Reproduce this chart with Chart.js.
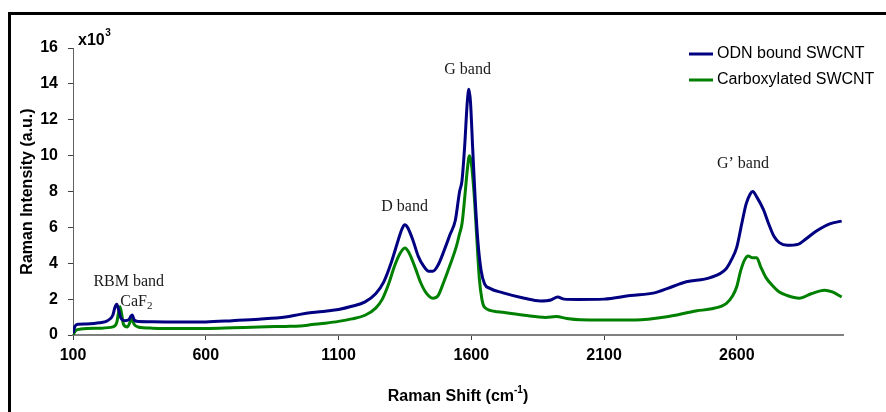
<!DOCTYPE html>
<html>
<head>
<meta charset="utf-8">
<title>Raman spectra</title>
<script src="https://cdn.jsdelivr.net/npm/chart.js@4.4.1/dist/chart.umd.min.js"></script>
<style>
  html, body { margin: 0; padding: 0; background: #fff; }
  #wrap { width: 886px; height: 412px; }
</style>
</head>
<body>
<div id="wrap"><canvas id="raman" width="886" height="412"></canvas></div>
<script>
(function () {
  "use strict";

  // Raman shift (cm^-1) and intensity (x10^3 a.u.)
  var odnShift = [100, 108, 120, 150, 200, 230, 250, 258, 265, 272, 280, 295, 310, 318, 323, 330, 345,
    400, 500, 600, 700, 800, 900, 955, 1000, 1050, 1100, 1150, 1200, 1240, 1270, 1300, 1325, 1340,
    1350, 1360, 1380, 1400, 1420, 1440, 1455, 1475, 1500, 1520, 1540, 1556, 1565, 1575, 1585, 1591,
    1597, 1605, 1615, 1625, 1637, 1650, 1670, 1720, 1800, 1860, 1900, 1925, 1950, 2000, 2100, 2200,
    2290, 2340, 2385, 2410, 2500, 2560, 2580, 2600, 2620, 2635, 2650, 2660, 2675, 2700, 2720, 2740,
    2760, 2790, 2830, 2860, 2900, 2950, 2995];
  var odnIntensity = [0.1, 0.5, 0.6, 0.62, 0.68, 0.8, 1.1, 1.55, 1.72, 1.4, 0.95, 0.8, 0.85, 1.05, 1.12, 0.85, 0.75,
    0.74, 0.72, 0.73, 0.8, 0.88, 1.0, 1.15, 1.25, 1.33, 1.42, 1.6, 1.85, 2.3, 2.95, 4.1, 5.3, 5.95,
    6.15, 6.0, 5.3, 4.4, 3.85, 3.55, 3.55, 3.9, 4.8, 5.6, 6.4, 8.0, 8.6, 10.5, 13.0, 13.7,
    13.0, 10.5, 7.5, 5.2, 3.6, 2.85, 2.6, 2.35, 2.05, 1.9, 1.95, 2.12, 2.0, 1.98, 2.0, 2.2,
    2.35, 2.6, 2.85, 2.97, 3.2, 3.7, 4.2, 4.9, 6.3, 7.3, 7.85, 8.0, 7.7, 7.0, 6.2, 5.5,
    5.15, 5.0, 5.05, 5.35, 5.8, 6.2, 6.35];

  var carbShift = [100, 110, 130, 200, 250, 265, 272, 277, 283, 290, 305, 316, 322, 330, 345,
    400, 500, 600, 700, 800, 900, 955, 1000, 1050, 1100, 1150, 1200, 1240, 1265, 1290, 1310, 1330,
    1350, 1365, 1390, 1410, 1430, 1455, 1475, 1495, 1520, 1545, 1555, 1565, 1575, 1585, 1593,
    1600, 1610, 1620, 1630, 1640, 1650, 1700, 1800, 1880, 1920, 1960, 2010, 2100, 2220, 2330,
    2450, 2500, 2560, 2585, 2600, 2615, 2630, 2643, 2660, 2675, 2690, 2710, 2735, 2760, 2790,
    2835, 2880, 2930, 2960, 2995];
  var carbIntensity = [0.0, 0.25, 0.33, 0.38, 0.45, 0.7, 1.3, 1.58, 1.2, 0.6, 0.45, 0.75, 0.9, 0.6, 0.45,
    0.38, 0.36, 0.36, 0.4, 0.45, 0.48, 0.5, 0.58, 0.66, 0.76, 0.9, 1.1, 1.5, 2.0, 2.9, 3.8, 4.5,
    4.85, 4.6, 3.7, 2.9, 2.35, 2.05, 2.2, 2.9, 3.9, 5.0, 5.6, 6.2, 7.6, 9.2, 10.0,
    9.6, 8.0, 5.6, 3.2, 2.0, 1.55, 1.3, 1.1, 0.98, 1.03, 0.92, 0.85, 0.84, 0.84, 1.0,
    1.35, 1.45, 1.75, 2.2, 2.7, 3.6, 4.2, 4.4, 4.3, 4.3, 3.8, 3.2, 2.75, 2.4, 2.2,
    2.05, 2.3, 2.5, 2.4, 2.12];

  var seriesNames = ["ODN bound SWCNT", "Carboxylated SWCNT"];
  var seriesColors = ["#000080", "#008000"];
  var shiftTicks = [100, 600, 1100, 1600, 2100, 2600];

  // band labels: [text, shift, intensity]
  var bandLabels = [
    ["G band", 1586, 14.77],
    ["D band", 1349, 7.13],
    ["G\u2019 band", 2623, 9.53],
    ["RBM band", 310, 2.95]
  ];

  var sans = "Arial, 'Liberation Sans', sans-serif";
  var serif = "'Times New Roman', 'Liberation Serif', serif";

  function pairs(xs, ys) {
    return xs.map(function (x, i) { return { x: x, y: ys[i] }; });
  }

  var decorations = {
    id: "decorations",
    afterDraw: function (chart) {
      var ctx = chart.ctx;
      var area = chart.chartArea;
      var xs = chart.scales.x;
      var ys = chart.scales.y;
      ctx.save();

      // outer frame
      ctx.strokeStyle = "#000";
      ctx.lineWidth = 3;
      ctx.strokeRect(9.5, 13.5, 900, 430);

      // y multiplier
      ctx.fillStyle = "#000";
      ctx.textBaseline = "alphabetic";
      ctx.textAlign = "left";
      ctx.font = "bold 16px " + sans;
      ctx.fillText("x10", 78, 45);
      var w10 = ctx.measureText("x10").width;
      ctx.font = "bold 10px " + sans;
      ctx.fillText("3", 78 + w10 + 0.5, 36);

      // y title
      ctx.save();
      ctx.translate(28, (area.top + area.bottom) / 2);
      ctx.rotate(-Math.PI / 2);
      ctx.font = "bold 16px " + sans;
      ctx.textAlign = "center";
      ctx.textBaseline = "middle";
      ctx.fillText("Raman Intensity (a.u.)", 0, 0);
      ctx.restore();

      // x title with superscript
      var main = "Raman Shift (cm";
      ctx.font = "bold 16px " + sans;
      var wMain = ctx.measureText(main).width;
      var wClose = ctx.measureText(")").width;
      ctx.font = "bold 10px " + sans;
      var wSup = ctx.measureText("-1").width;
      var x0 = (area.left + area.right) / 2 - (wMain + wSup + wClose) / 2;
      ctx.textAlign = "left";
      ctx.font = "bold 16px " + sans;
      ctx.fillText(main, x0, 401);
      ctx.fillText(")", x0 + wMain + wSup, 401);
      ctx.font = "bold 10px " + sans;
      ctx.fillText("-1", x0 + wMain, 393);

      // band labels
      ctx.fillStyle = "#1a1a1a";
      ctx.font = "16px " + serif;
      ctx.textAlign = "center";
      ctx.textBaseline = "middle";
      bandLabels.forEach(function (b) {
        ctx.fillText(b[0], xs.getPixelForValue(b[1]), ys.getPixelForValue(b[2]));
      });
      ctx.textAlign = "left";
      var cx = xs.getPixelForValue(278);
      var cy = ys.getPixelForValue(1.84);
      ctx.fillText("CaF", cx, cy);
      var wCa = ctx.measureText("CaF").width;
      ctx.font = "11px " + serif;
      ctx.fillText("2", cx + wCa, cy + 4);

      // legend
      ctx.font = "16px " + sans;
      ctx.textBaseline = "middle";
      chart.data.datasets.forEach(function (ds, i) {
        var ly = 54 + i * 26;
        ctx.strokeStyle = ds.borderColor;
        ctx.lineWidth = 3;
        ctx.beginPath();
        ctx.moveTo(689, ly);
        ctx.lineTo(713, ly);
        ctx.stroke();
        ctx.fillStyle = "#000";
        ctx.fillText(ds.label, 717, ly);
      });

      ctx.restore();
    }
  };

  new Chart(document.getElementById("raman"), {
    type: "line",
    data: {
      datasets: [
        { label: seriesNames[0], data: pairs(odnShift, odnIntensity), borderColor: seriesColors[0] },
        { label: seriesNames[1], data: pairs(carbShift, carbIntensity), borderColor: seriesColors[1] }
      ]
    },
    options: {
      responsive: false,
      animation: false,
      layout: { padding: { left: 0, right: 43, top: 48, bottom: 0 } },
      elements: {
        line: { borderWidth: 3, cubicInterpolationMode: "monotone", fill: false },
        point: { radius: 0 }
      },
      plugins: { legend: { display: false }, tooltip: { enabled: false } },
      scales: {
        x: {
          type: "linear",
          min: 100,
          max: 3000,
          afterBuildTicks: function (scale) {
            scale.ticks = shiftTicks.map(function (v) { return { value: v }; });
          },
          afterFit: function (scale) { scale.height = 77; },
          ticks: {
            color: "#000",
            font: { family: sans, size: 16, weight: "bold" },
            padding: 6,
            maxRotation: 0,
            autoSkip: false,
            callback: function (v) { return String(v); }
          },
          grid: { drawOnChartArea: false, tickLength: 5, color: "#404040", lineWidth: 1 },
          border: { color: "#808080", width: 2 }
        },
        y: {
          min: 0,
          max: 16,
          afterFit: function (scale) { scale.width = 73; },
          ticks: {
            stepSize: 2,
            color: "#000",
            font: { family: sans, size: 16, weight: "bold" },
            padding: 10,
            callback: function (v) { return String(v); }
          },
          grid: { drawOnChartArea: false, tickLength: 5, color: "#404040", lineWidth: 1 },
          border: { color: "#606060", width: 1 }
        }
      }
    },
    plugins: [decorations]
  });
})();
</script>
</body>
</html>
